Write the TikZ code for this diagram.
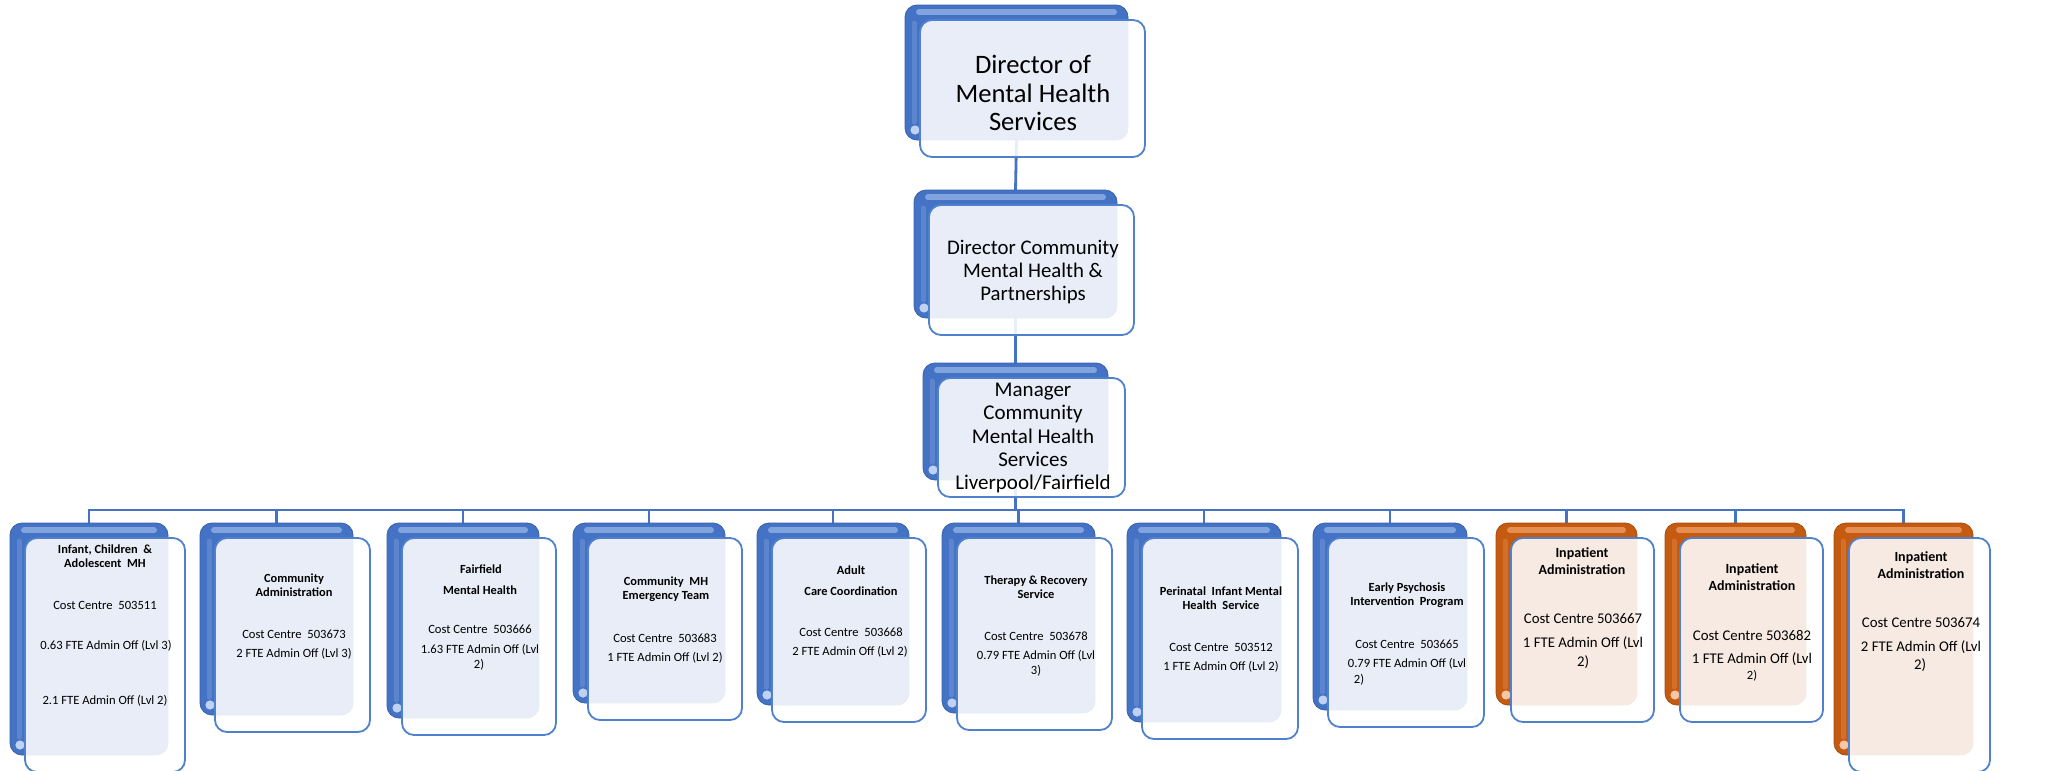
\documentclass[tikz,border=0pt]{standalone}
\usepackage{fontspec}
\setmainfont{Carlito}
\usetikzlibrary{calc}
\definecolor{cblue}{RGB}{68,114,196}
\definecolor{cbluehi}{RGB}{150,180,232}
\definecolor{corange}{RGB}{197,90,17}
\definecolor{corangehi}{RGB}{240,160,105}
\definecolor{cborder}{RGB}{79,129,205}
\definecolor{cline}{RGB}{68,114,196}
\pgfdeclarelayer{bg}
\pgfsetlayers{bg,main}
\tikzset{
  backcard/.style={rectangle, rounded corners=6pt, inner sep=0pt, outer sep=0pt, draw=#1!85!black, line width=0.4pt, fill=#1},
  frontcard/.style={rectangle, rounded corners=6pt, inner sep=0pt, outer sep=0pt, draw=cborder, line width=0.9pt, fill=white, fill opacity=0.88},
  conn/.style={draw=cline, line width=1.4pt},
  tbig/.style={font=\fontsize{13.3}{14.2}\selectfont, align=center, inner sep=0pt},
  tmid/.style={font=\fontsize{10.4}{11.7}\selectfont, align=center, inner sep=0pt},
  tman/.style={font=\fontsize{10.5}{11.7}\selectfont, align=center, inner sep=0pt},
  tb/.style={font=\fontsize{6.2}{7.2}\selectfont\bfseries, align=center, inner sep=0pt},
  tn/.style={font=\fontsize{6.3}{7.5}\selectfont, align=center, inner sep=0pt},
  ob/.style={font=\fontsize{7}{8.5}\selectfont\bfseries, align=center, inner sep=0pt},
  on/.style={font=\fontsize{7.4}{9}\selectfont, align=center, inner sep=0pt},
}
% name, x1, y1, x2, y2, colour, highlight colour
\newcommand\orgcard[7]{%
  \node[backcard=#6, minimum width={(#4-#2)*0.5pt}, minimum height={(#5-#3)*0.5pt}] (#1) at ({(#2+#4)/2},{(#3+#5)/2}) {};
  \draw[#7, opacity=0.75, line width=3pt, line cap=round] ([xshift=7pt,yshift=-3.6pt]#1.north west) -- ([xshift=-7pt,yshift=-3.6pt]#1.north east);
  \draw[#7, opacity=0.3, line width=2.5pt, line cap=round] ([xshift=4.5pt,yshift=-9pt]#1.north west) -- ([xshift=4.5pt,yshift=9pt]#1.south west);
  \fill[#7!60!white] ([xshift=5pt,yshift=5pt]#1.south west) circle (2.3pt);
  \node[frontcard, minimum width={(#4-#2+2)*0.5pt}, minimum height={(#5-#3+2)*0.5pt}] (#1f) at ({(#2+#4)/2+16},{(#3+#5)/2+16}) {};
}
\begin{document}
\begin{tikzpicture}[x=0.5pt, y=-0.5pt]
\useasboundingbox (0,0) rectangle (2053,771);
\coordinate (bus) at (0,510);

% cards
\orgcard{T}{905}{5}{1128}{140}{cblue}{cbluehi}
\orgcard{D}{914}{190}{1117}{318}{cblue}{cbluehi}
\orgcard{M}{923}{363}{1108}{480}{cblue}{cbluehi}
\orgcard{c1}{10}{523}{168}{755}{cblue}{cbluehi}
\orgcard{c2}{200}{523}{353}{715}{cblue}{cbluehi}
\orgcard{c3}{387}{523}{539}{718}{cblue}{cbluehi}
\orgcard{c4}{573}{523}{725}{703}{cblue}{cbluehi}
\orgcard{c5}{757}{523}{909}{705}{cblue}{cbluehi}
\orgcard{c6}{942}{523}{1095}{713}{cblue}{cbluehi}
\orgcard{c7}{1127}{523}{1281}{722}{cblue}{cbluehi}
\orgcard{c8}{1313}{523}{1467}{710}{cblue}{cbluehi}
\orgcard{c9}{1496}{523}{1637}{705}{corange}{corangehi}
\orgcard{c10}{1665}{523}{1806}{705}{corange}{corangehi}
\orgcard{c11}{1834}{523}{1973}{755}{corange}{corangehi}

% connectors
\begin{pgfonlayer}{bg}
\draw[conn] (T.south) -- (D.north);
\draw[conn] (D.south) -- (M.north);
\foreach \c in {c1,c2,c3,c4,c5,c6,c7,c8,c9,c10,c11}
  \draw[conn] (M.south) -- (M.south |- bus) -| (\c.north);
\end{pgfonlayer}

% texts
\node[tbig] (tT) at (1033,93) {Director of\\Mental Health\\Services};
\node[tmid] (tD) at (1033,272) {Director Community\\Mental Health \&\\Partnerships};
\node[tman] (tM) at (1033,438) {Manager\\Community\\Mental Health\\Services\\Liverpool/Fairfield};

\node[tb] (t1a) at (105,556) {Infant, Children~ \&\\Adolescent~ MH};
\node[tn] (t1b) at (105,605) {Cost Centre~ 503511};
\node[tn] (t1c) at (106,646) {0.63 FTE Admin Off (Lvl 3)};
\node[tn] (t1d) at (105,701) {2.1 FTE Admin Off (Lvl 2)};

\node[tb] (t2a) at (294,585) {Community\\Administration};
\node[tn] (t2b) at (294,634) {Cost Centre~ 503673};
\node[tn] (t2c) at (294,654) {2 FTE Admin Off (Lvl 3)};

\node[tb] (t3a) at (481,569) {Fairfield};
\node[tb] (t3b) at (480,590) {Mental Health};
\node[tn] (t3c) at (480,629) {Cost Centre~ 503666};
\node[tn] (t3d) at (480,650) {1.63 FTE Admin Off (Lvl};
\node[tn] (t3e) at (479,665) {2)};

\node[tb] (t4a) at (666,589) {Community~ MH\\Emergency Team};
\node[tn] (t4b) at (665,638) {Cost Centre~ 503683};
\node[tn] (t4c) at (665,658) {1 FTE Admin Off (Lvl 2)};

\node[tb] (t5a) at (851,570) {Adult};
\node[tb] (t5b) at (851,591) {Care Coordination};
\node[tn] (t5c) at (851,632) {Cost Centre~ 503668};
\node[tn] (t5d) at (850,652) {2 FTE Admin Off (Lvl 2)};

\node[tb] (t6a) at (1036,587) {Therapy \& Recovery\\Service};
\node[tn] (t6b) at (1036,636) {Cost Centre~ 503678};
\node[tn] (t6c) at (1036,656) {0.79 FTE Admin Off (Lvl};
\node[tn] (t6d) at (1036,671) {3)};

\node[tb] (t7a) at (1221,598) {Perinatal~ Infant Mental\\Health~ Service};
\node[tn] (t7b) at (1221,647) {Cost Centre~ 503512};
\node[tn] (t7c) at (1221,667) {1 FTE Admin Off (Lvl 2)};

\node[tb] (t8a) at (1407,595) {Early Psychosis\\Intervention~ Program};
\node[tn] (t8b) at (1407,644) {Cost Centre~ 503665};
\node[tn] (t8c) at (1407,664) {0.79 FTE Admin Off (Lvl};
\node[tn] (t8d) at (1359,680) {2)};

\node[ob] (t9a) at (1582,561) {Inpatient\\Administration};
\node[on] (t9b) at (1583,619) {Cost Centre 503667};
\node[on] (t9c) at (1583,643) {1 FTE Admin Off (Lvl};
\node[on] (t9d) at (1583,662) {2)};

\node[ob] (t10a) at (1752,577) {Inpatient\\Administration};
\node[on] (t10b) at (1752,635) {Cost Centre 503682};
\node[on] (t10c) at (1752,659) {1 FTE Admin Off (Lvl};
\node[tn] (t10d) at (1752,676) {2)};

\node[ob] (t11a) at (1921,565) {Inpatient\\Administration};
\node[on] (t11b) at (1921,623) {Cost Centre 503674};
\node[on] (t11c) at (1921,647) {2 FTE Admin Off (Lvl};
\node[on] (t11d) at (1920,665) {2)};
\end{tikzpicture}
\end{document}
